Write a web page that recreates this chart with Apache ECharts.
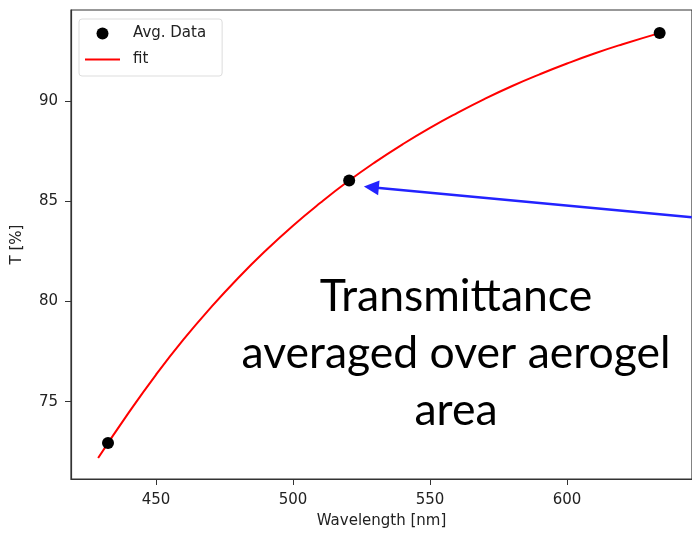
<!DOCTYPE html>
<html lang="en">
<head>
    <meta charset="UTF-8">
    <title>Transmittance</title>
    <script type="text/javascript" src="https://cdn.jsdelivr.net/npm/echarts@6/dist/echarts.min.js"></script>
</head>
<body style="margin:0;">
<div id="main" style="width: 692px; height:534px;"></div>

<script>
    // averaged measurement points [wavelength nm, T %]
    var avgData = [[432.5, 72.94], [520.5, 86.03], [633.8, 93.39]];

    // fit curve
    var fitData = [
        [428.9, 72.19], [440, 74.44], [450, 76.34], [460, 78.09], [470, 79.69],
        [480, 81.17], [490, 82.53], [500, 83.78], [510, 84.92], [520, 85.98],
        [530, 86.95], [540, 87.84], [550, 88.66], [560, 89.41], [570, 90.11],
        [580, 90.75], [590, 91.33], [600, 91.87], [610, 92.37], [620, 92.82],
        [634, 93.40]
    ];

    var xTicks = [450, 500, 550, 600];
    var yTicks = [75, 80, 85, 90];

    // arrow from the right edge to the middle point
    var arrowFrom = [645.5, 84.2];
    var arrowTo = [528.6, 85.70];

    var noteLines = ['Transmittance', 'averaged over aerogel', 'area'];

    var myChart = echarts.init(document.getElementById('main'));

    var axisFont = 'DejaVu Sans';

    option = {
        animation: false,
        backgroundColor: '#fff',
        grid: {
            left: 71,
            top: 10,
            width: 624,
            height: 469,
            show: true,
            borderColor: '#333',
            borderWidth: 1.2
        },
        legend: {
            left: 79,
            top: 19,
            orient: 'vertical',
            padding: [7, 16, 9, 6],
            itemWidth: 35,
            itemHeight: 12,
            itemGap: 11,
            borderColor: '#ddd',
            borderWidth: 1,
            borderRadius: 3,
            backgroundColor: '#fff',
            textStyle: {fontFamily: axisFont, fontSize: 15, color: '#222', padding: [0, 0, 0, 8]},
            data: [
                {name: 'Avg. Data', icon: 'circle'},
                {name: 'fit', icon: 'path://M0,0L35,0L35,2L0,2Z'}
            ]
        },
        xAxis: {
            type: 'value',
            min: 419,
            max: 645.6,
            name: 'Wavelength [nm]',
            nameLocation: 'middle',
            nameGap: 35,
            nameTextStyle: {fontFamily: axisFont, fontSize: 15, color: '#222'},
            axisLine: {onZero: false, lineStyle: {color: '#333', width: 1.2}},
            axisTick: {length: 6, lineStyle: {color: '#333'}, customValues: xTicks},
            axisLabel: {margin: 14, fontFamily: axisFont, fontSize: 15, color: '#222', customValues: xTicks},
            splitLine: {show: false}
        },
        yAxis: {
            type: 'value',
            min: 71.14,
            max: 94.54,
            name: 'T [%]',
            nameLocation: 'middle',
            nameGap: 46,
            nameTextStyle: {fontFamily: axisFont, fontSize: 15, color: '#222'},
            axisLine: {onZero: false, lineStyle: {color: '#333', width: 1.2}},
            axisTick: {length: 6, lineStyle: {color: '#333'}, customValues: yTicks},
            axisLabel: {margin: 13, fontFamily: axisFont, fontSize: 15, color: '#222', customValues: yTicks},
            splitLine: {show: false}
        },
        graphic: noteLines.map(function (t, i) {
            return {
                type: 'text',
                x: 456,
                y: 297 + i * 56.7,
                style: {
                    text: t,
                    fill: '#000',
                    font: '44.5px Lato',
                    textAlign: 'center',
                    textVerticalAlign: 'middle'
                }
            };
        }),
        series: [
            {
                name: 'Avg. Data',
                type: 'scatter',
                symbolSize: 12,
                itemStyle: {color: '#000', opacity: 1},
                data: avgData,
                z: 3,
                markLine: {
                    silent: true,
                    symbol: ['none', 'triangle'],
                    symbolSize: 15,
                    label: {show: false},
                    lineStyle: {color: '#2323ff', width: 2.5, type: 'solid', opacity: 1},
                    data: [[{coord: arrowFrom}, {coord: arrowTo}]]
                }
            },
            {
                name: 'fit',
                type: 'line',
                smooth: true,
                symbol: 'none',
                lineStyle: {color: '#ff0000', width: 2},
                itemStyle: {color: '#ff0000'},
                data: fitData,
                z: 2
            }
        ]
    };

    myChart.setOption(option);
</script>
</body>
</html>
